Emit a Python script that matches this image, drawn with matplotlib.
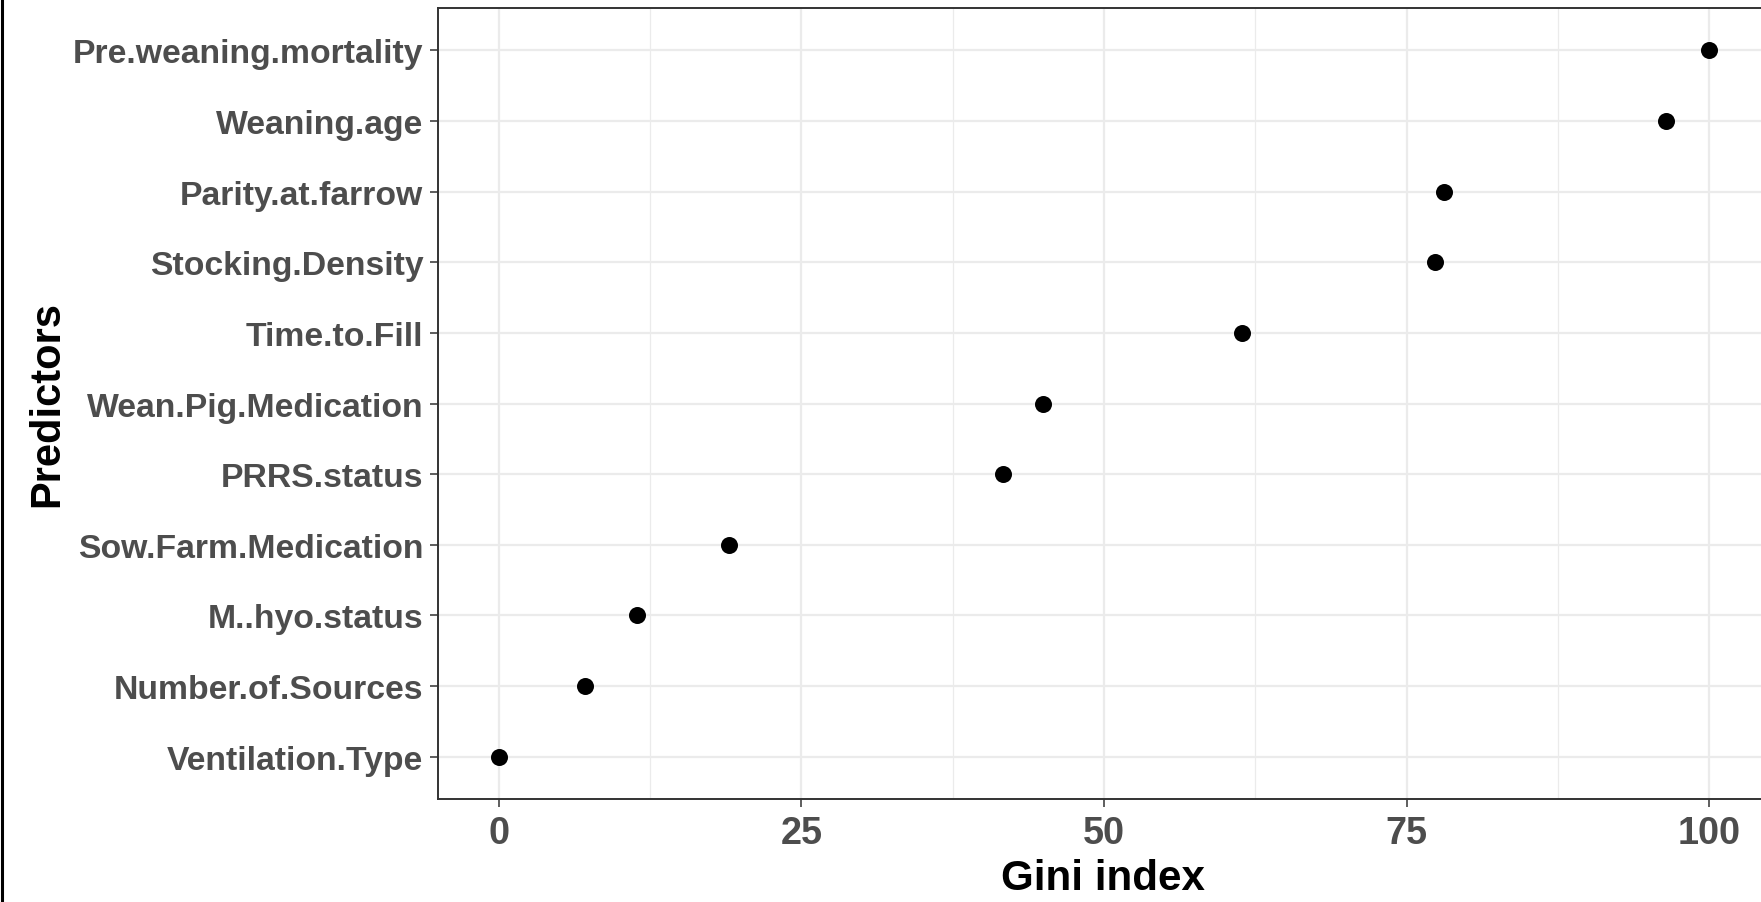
import matplotlib
matplotlib.use("Agg")
import matplotlib.pyplot as plt
from matplotlib.lines import Line2D

predictors = ["Ventilation.Type", "Number.of.Sources", "M..hyo.status",
              "Sow.Farm.Medication", "PRRS.status", "Wean.Pig.Medication",
              "Time.to.Fill", "Stocking.Density", "Parity.at.farrow",
              "Weaning.age", "Pre.weaning.mortality"]
gini = [0.0, 7.1, 11.4, 19.0, 41.7, 45.0, 61.4, 77.3, 78.1, 96.4, 100.0]
x_ticks = [0, 25, 50, 75, 100]
x_minor = [12.5, 37.5, 62.5, 87.5]

plt.rcParams['font.family'] = ['Liberation Sans', 'DejaVu Sans']
W, H = 1761, 903
fig = plt.figure(figsize=(W / 100, H / 100), dpi=100)
fig.patch.set_facecolor("white")

left, right, top, bottom = 438, 1770, 9, 800
ax = fig.add_axes([left / W, 1 - bottom / H, (right - left) / W, (bottom - top) / H])

ypos = list(range(1, len(predictors) + 1))
ax.set_xlim(-5, 105)
ax.set_ylim(0.4, len(predictors) + 0.6)

ax.set_xticks(x_ticks)
ax.set_xticks(x_minor, minor=True)
ax.set_yticks(ypos)
ax.set_yticklabels(predictors)
ax.set_xticklabels([str(t) for t in x_ticks])

ax.grid(True, which="major", color="#EBEBEB", linewidth=1.6)
ax.grid(True, which="minor", axis="x", color="#EBEBEB", linewidth=0.9)
ax.set_axisbelow(True)

ax.scatter(gini, ypos, s=150, color="black", zorder=3, linewidths=0)

for sp in ax.spines.values():
    sp.set_color("#333333")
    sp.set_linewidth(1.4)

ax.tick_params(axis="both", which="major", color="#333333", length=5.5, width=1.1)
ax.tick_params(axis="x", which="minor", length=0)
ax.tick_params(axis="y", labelsize=24.3, labelcolor="#4D4D4D", pad=5)
ax.tick_params(axis="x", labelsize=27.3, labelcolor="#4D4D4D", pad=6)
for lab in ax.get_xticklabels() + ax.get_yticklabels():
    lab.set_fontweight("bold")

ax.set_xlabel("Gini index", fontsize=30.3, fontweight="bold", color="black")
ax.set_ylabel("Predictors", fontsize=30, fontweight="bold", color="black")
ax.xaxis.set_label_coords((1103 - left) / (right - left), 1 - (879 - top) / (bottom - top))
ax.xaxis.label.set_va("center")
ax.yaxis.set_label_coords((47 - left) / (right - left), 1 - (404 - top) / (bottom - top))
ax.yaxis.label.set_va("center")

fig.add_artist(Line2D([1.5 / W, 1.5 / W], [0, 1], transform=fig.transFigure,
                      color="black", linewidth=2.2))

fig.savefig("out.png", dpi=100, facecolor="white")
